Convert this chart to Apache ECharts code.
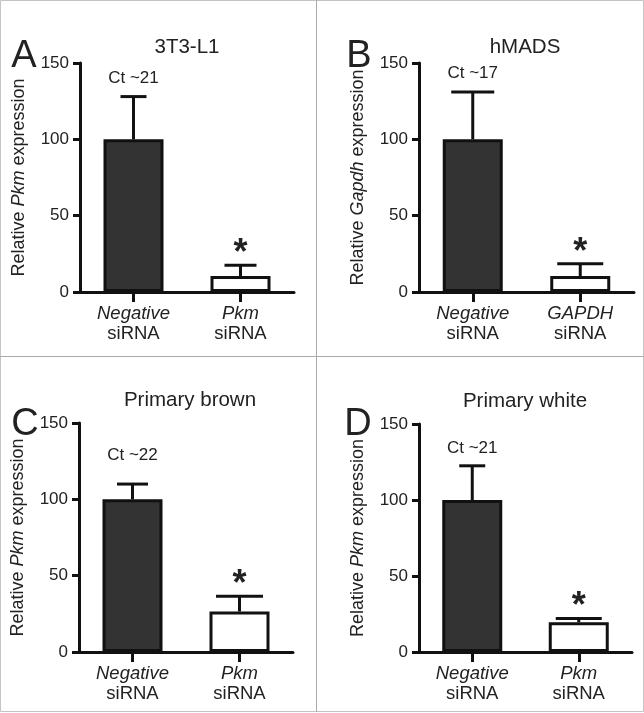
<!DOCTYPE html>
<html>
<head>
<meta charset="utf-8">
<script src="https://cdn.jsdelivr.net/npm/echarts@6/dist/echarts.min.js"></script>
<style>
html,body{margin:0;padding:0;background:#fff;}
#chart{width:644px;height:713px;}
</style>
</head>
<body>
<div id="chart"></div>
<script>
// ---- data ----
const categoriesA = ['Negative', 'Pkm'];
const categoriesB = ['Negative', 'GAPDH'];
const categoriesC = ['Negative', 'Pkm'];
const categoriesD = ['Negative', 'Pkm'];

const meansA = [100, 10.5];
const errorsA = [28, 7];
const meansB = [100, 10.5];
const errorsB = [31, 8];
const meansC = [100, 26.5];
const errorsC = [10, 10];
const meansD = [100, 19.5];
const errorsD = [22.5, 2.5];

const yTicks = [0, 50, 100, 150];
const titles = ['3T3-L1', 'hMADS', 'Primary brown', 'Primary white'];
const letters = ['A', 'B', 'C', 'D'];
const ctLabels = ['Ct ~21', 'Ct ~17', 'Ct ~22', 'Ct ~21'];
const geneNames = ['Pkm', 'Gapdh', 'Pkm', 'Pkm'];

// ---- layout / style ----
const FONT = '"Liberation Sans", Arial, Helvetica, sans-serif';
const TXT = '#222';
const panels = [
  {cats: categoriesA, means: meansA, errs: errorsA, grid: {left: 80, top: 63, width: 214, height: 229}, caps: [26, 32], ctGap: 18,
   titlePos: [187, 47], letterPos: [24, 38]},
  {cats: categoriesB, means: meansB, errs: errorsB, grid: {left: 419, top: 63, width: 215, height: 229}, caps: [43, 46], ctGap: 19,
   titlePos: [525, 47], letterPos: [359, 38]},
  {cats: categoriesC, means: meansC, errs: errorsC, grid: {left: 79, top: 423, width: 214, height: 229}, caps: [31, 47], ctGap: 29,
   titlePos: [190, 400], letterPos: [25, 406]},
  {cats: categoriesD, means: meansD, errs: errorsD, grid: {left: 419, top: 424, width: 213, height: 228}, caps: [26, 46], ctGap: 17,
   titlePos: [525, 401], letterPos: [358, 406]}
];

const chart = echarts.init(document.getElementById('chart'), null, {renderer: 'canvas'});

const grids = [], xAxes = [], yAxes = [], series = [], graphics = [];

// borders
const bc = '#aaaaaa';
graphics.push(
  {type: 'rect', shape: {x: 0.5, y: 0.5, width: 643, height: 711}, style: {fill: null, stroke: '#c4c4c4', lineWidth: 1}, silent: true},
  {type: 'line', shape: {x1: 316.5, y1: 0, x2: 316.5, y2: 712}, style: {stroke: bc, lineWidth: 1}, silent: true},
  {type: 'line', shape: {x1: 0, y1: 356.5, x2: 644, y2: 356.5}, style: {stroke: bc, lineWidth: 1}, silent: true}
);

panels.forEach((p, i) => {
  grids.push(Object.assign({containLabel: false}, p.grid));
  xAxes.push({
    type: 'category', gridIndex: i, data: p.cats,
    axisLine: {lineStyle: {color: '#111', width: 3}},
    axisTick: {show: true, alignWithLabel: true, length: 10, lineStyle: {color: '#111', width: 3}},
    axisLabel: {
      margin: 12, lineHeight: 20,
      formatter: v => '{i|' + v + '}\n{n|siRNA}',
      rich: {
        i: {fontFamily: FONT, fontSize: 18.5, fontStyle: 'italic', color: TXT, lineHeight: 20},
        n: {fontFamily: FONT, fontSize: 18.5, color: TXT, lineHeight: 20}
      }
    },
    splitLine: {show: false}
  });
  yAxes.push({
    type: 'value', gridIndex: i, min: 0, max: 150, interval: 50,
    axisLine: {show: true, lineStyle: {color: '#111', width: 3}},
    axisTick: {show: true, length: 7, lineStyle: {color: '#111', width: 3}},
    axisLabel: {margin: 11, fontFamily: FONT, fontSize: 17, color: TXT,
      formatter: v => yTicks.indexOf(v) >= 0 ? String(v) : ''},
    splitLine: {show: false},
    name: '{n|Relative }{i|' + geneNames[i] + '}{n| expression}',
    nameLocation: 'middle', nameRotate: 90, nameGap: 52,
    nameTextStyle: {
      rich: {
        n: {fontFamily: FONT, fontSize: 18, color: TXT},
        i: {fontFamily: FONT, fontSize: 18, color: TXT, fontStyle: 'italic'}
      }
    }
  });
  series.push({
    type: 'bar', xAxisIndex: i, yAxisIndex: i, barWidth: 60,
    data: p.means.map((m, k) => ({value: m, itemStyle: {color: k === 0 ? '#333333' : '#ffffff', borderColor: '#111', borderWidth: 3}})),
    silent: true, animation: false
  });
  series.push({
    type: 'custom', xAxisIndex: i, yAxisIndex: i, silent: true, animation: false, z: 3,
    data: p.means.map((m, k) => [k, m, p.errs[k]]),
    renderItem: (params, api) => {
      const k = api.value(0), m = api.value(1), e = api.value(2);
      const p0 = api.coord([k, m]);
      const p1 = api.coord([k, m + e]);
      const hw = p.caps[k] / 2;
      const children = [
        {type: 'line', shape: {x1: p0[0], y1: p0[1], x2: p1[0], y2: p1[1]}, style: {stroke: '#111', lineWidth: 3}},
        {type: 'line', shape: {x1: p1[0] - hw, y1: p1[1], x2: p1[0] + hw, y2: p1[1]}, style: {stroke: '#111', lineWidth: 3}}
      ];
      if (k === 0) {
        children.push({type: 'text', x: p1[0], y: p1[1] - p.ctGap,
          style: {text: ctLabels[i], fontFamily: FONT, fontSize: 17, fill: TXT, align: 'center', verticalAlign: 'middle'}});
      } else {
        children.push({type: 'text', x: p1[0], y: p1[1] - 11,
          style: {text: '*', fontFamily: FONT, fontSize: 36, fontWeight: 'bold', fill: TXT, align: 'center', verticalAlign: 'middle'}});
      }
      return {type: 'group', children};
    }
  });
  graphics.push({type: 'text', x: p.titlePos[0], y: p.titlePos[1], silent: true,
    style: {text: titles[i], fontFamily: FONT, fontSize: 20.5, fill: TXT, align: 'center', verticalAlign: 'middle'}});
  graphics.push({type: 'text', x: p.letterPos[0], y: p.letterPos[1], silent: true,
    style: {text: letters[i], fontFamily: FONT, fontSize: 38, fill: TXT, align: 'center', verticalAlign: 'alphabetic'}});
});

chart.setOption({
  animation: false,
  backgroundColor: '#ffffff',
  grid: grids, xAxis: xAxes, yAxis: yAxes, series: series,
  graphic: {elements: graphics}
});
</script>
</body>
</html>
